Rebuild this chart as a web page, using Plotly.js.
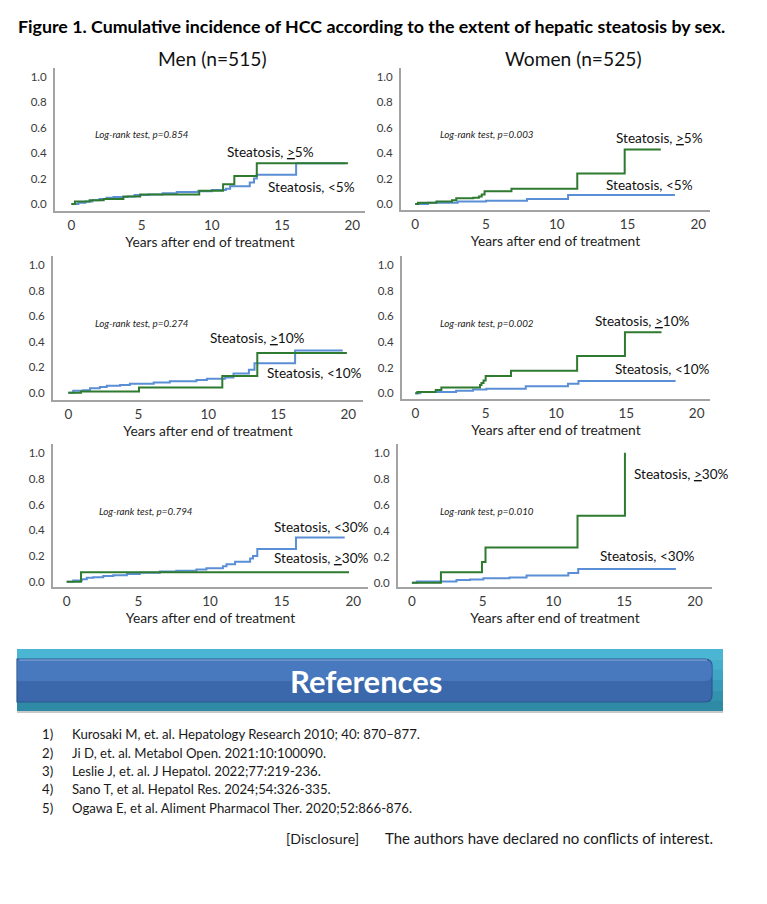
<!DOCTYPE html>
<html>
<head>
<meta charset="utf-8">
<script src="https://cdn.plot.ly/plotly-3.0.1.min.js"></script>
<style>html,body{margin:0;padding:0;background:#fff;}#chart{width:767px;height:904px;}</style>
</head>
<body>
<div id="chart"></div>
<script>
// ---------------- DATA ----------------
// Panel A: Men, 5% cut-off
const menLt5_t  = [0, 0.5, 1.0, 1.5, 2.0, 2.5, 3.0, 4.0, 4.5, 5.5, 6.5, 7.5, 9.0, 10.0, 11.0, 11.3, 12.7, 13.0, 13.2, 16.0, 19.5];
const menLt5_y  = [0, 0.01, 0.02, 0.03, 0.04, 0.05, 0.055, 0.06, 0.07, 0.075, 0.085, 0.095, 0.10, 0.11, 0.12, 0.14, 0.17, 0.20, 0.23, 0.32, 0.32];
const menGe5_t  = [0, 0.25, 1.3, 2.3, 3.7, 4.9, 9.1, 10.8, 11.6, 13.2, 19.7];
const menGe5_y  = [0, 0.02, 0.03, 0.04, 0.06, 0.075, 0.105, 0.155, 0.22, 0.32, 0.32];
// Panel B: Women, 5% cut-off
const womenLt5_t = [0, 0.9, 3.0, 5.0, 7.9, 10.8, 18.35];
const womenLt5_y = [0, 0.01, 0.02, 0.025, 0.04, 0.07, 0.07];
const womenGe5_t = [0, 0.2, 1.5, 2.6, 2.9, 4.1, 4.5, 4.7, 4.9, 6.8, 11.45, 14.8, 17.35];
const womenGe5_y = [0, 0.01, 0.02, 0.03, 0.045, 0.05, 0.06, 0.075, 0.10, 0.12, 0.24, 0.43, 0.43];
// Panel C: Men, 10% cut-off
const menLt10_t = [0, 0.35, 1.05, 1.55, 2.25, 2.75, 3.7, 4.4, 6.1, 7.25, 9.15, 9.9, 11.2, 11.8, 12.9, 13.3, 16.2, 19.6];
const menLt10_y = [0, 0.015, 0.02, 0.035, 0.045, 0.055, 0.06, 0.07, 0.08, 0.09, 0.10, 0.11, 0.12, 0.15, 0.18, 0.23, 0.33, 0.33];
const menGe10_t = [0, 0.9, 5.05, 11.0, 13.5, 19.9];
const menGe10_y = [0, 0.01, 0.04, 0.13, 0.31, 0.31];
// Panel D: Women, 10% cut-off
const womenLt10_t = [0, 0.35, 2.9, 4.1, 5.05, 7.85, 10.85, 11.6, 18.5];
const womenLt10_y = [0, 0.01, 0.02, 0.03, 0.035, 0.055, 0.075, 0.095, 0.095];
const womenGe10_t = [0, 0.15, 1.45, 1.85, 4.6, 4.7, 4.85, 5.0, 6.8, 11.5, 14.9, 17.5];
const womenGe10_y = [0, 0.01, 0.025, 0.045, 0.065, 0.08, 0.10, 0.135, 0.175, 0.29, 0.475, 0.475];
// Panel E: Men, 30% cut-off
const menLt30_t = [0, 0.45, 1.05, 1.4, 1.85, 2.55, 3.25, 4.2, 5.1, 6.5, 7.65, 9.05, 9.75, 10.9, 11.15, 11.75, 12.8, 13.0, 13.3, 16.0, 19.4];
const menLt30_y = [0, 0.01, 0.02, 0.03, 0.035, 0.045, 0.05, 0.06, 0.07, 0.08, 0.085, 0.095, 0.105, 0.12, 0.135, 0.155, 0.18, 0.20, 0.255, 0.345, 0.345];
const menGe30_t = [0, 1.0, 19.7];
const menGe30_y = [0, 0.073, 0.073];
// Panel F: Women, 30% cut-off
const womenLt30_t = [0, 0.35, 3.15, 4.1, 5.05, 6.9, 8.1, 11.05, 11.75, 18.65];
const womenLt30_y = [0, 0.01, 0.02, 0.025, 0.035, 0.04, 0.055, 0.075, 0.105, 0.105];
const womenGe30_t = [0, 2.05, 4.95, 5.2, 11.7, 15.05];
const womenGe30_y = [0, 0.08, 0.16, 0.27, 0.515, 1.0];

const pValues = ['0.854', '0.003', '0.274', '0.002', '0.794', '0.010'];
const groupTitles = ['Men (n=515)', 'Women (n=525)'];
const xTicks = [0, 5, 10, 15, 20];
const yTicks = [0, 0.2, 0.4, 0.6, 0.8, 1.0];
const references = [
  'Kurosaki M, et. al. Hepatology Research 2010; 40: 870\u2013877.',
  'Ji D, et. al. Metabol Open. 2021:10:100090.',
  'Leslie J, et. al. J Hepatol. 2022;77:219-236.',
  'Sano T, et al. Hepatol Res. 2024;54:326-335.',
  'Ogawa E, et al. Aliment Pharmacol Ther. 2020;52:866-876.'
];

// ---------------- LAYOUT / STYLE ----------------
const W = 767, H = 904;
const FONT = 'Lato, "Open Sans", "DejaVu Sans", sans-serif';
const GREEN = '#2e7b30', BLUE = '#5b8fd5';
const px = v => v / W, py = v => 1 - v / H;
const GE = '<span style="text-decoration:underline">&gt;</span>';

// panel geometry in pixels: plot box (L,R,T,B) and where x=0/x=20 and y=0/y=1 fall
const geo = [
  {L: 55,  R: 365, T: 68,  B: 211, x0: 71.4,  x20: 352.3, y0: 204,   y1: 77},
  {L: 401, R: 710, T: 68,  B: 210, x0: 415.2, x20: 698.3, y0: 204,   y1: 77},
  {L: 53,  R: 363, T: 256, B: 400, x0: 68.3,  x20: 348.3, y0: 392.7, y1: 265},
  {L: 402, R: 710, T: 256, B: 399, x0: 415.3, x20: 696.7, y0: 393.3, y1: 265},
  {L: 53,  R: 368, T: 444, B: 587, x0: 66.7,  x20: 353.3, y0: 581.7, y1: 453.3},
  {L: 398, R: 712, T: 444, B: 587, x0: 411.9, x20: 695,   y0: 582.7, y1: 452.7}
];

const series = [
  [[menLt5_t, menLt5_y, BLUE, 'Steatosis, <5%'], [menGe5_t, menGe5_y, GREEN, 'Steatosis, ≥5%']],
  [[womenLt5_t, womenLt5_y, BLUE, 'Steatosis, <5%'], [womenGe5_t, womenGe5_y, GREEN, 'Steatosis, ≥5%']],
  [[menLt10_t, menLt10_y, BLUE, 'Steatosis, <10%'], [menGe10_t, menGe10_y, GREEN, 'Steatosis, ≥10%']],
  [[womenLt10_t, womenLt10_y, BLUE, 'Steatosis, <10%'], [womenGe10_t, womenGe10_y, GREEN, 'Steatosis, ≥10%']],
  [[menLt30_t, menLt30_y, BLUE, 'Steatosis, <30%'], [menGe30_t, menGe30_y, GREEN, 'Steatosis, ≥30%']],
  [[womenLt30_t, womenLt30_y, BLUE, 'Steatosis, <30%'], [womenGe30_t, womenGe30_y, GREEN, 'Steatosis, ≥30%']]
];

// label positions (pixels) for the curve labels
const labelPos = [
  {ge: [270, 152], lt: [311, 187], cut: '5%'},
  {ge: [659, 138], lt: [649, 185], cut: '5%'},
  {ge: [257, 338], lt: [314, 373], cut: '10%'},
  {ge: [642, 321], lt: [662, 369], cut: '10%'},
  {ge: [321, 558], lt: [321, 527], cut: '30%'},
  {ge: [681, 474], lt: [647, 556], cut: '30%'}
];
const pPos = [[142, 134], [487, 134], [142, 323], [487, 323], [146, 511], [487, 511]];

const data = [];
const layout = {
  width: W, height: H,
  margin: {l: 0, r: 0, t: 0, b: 0},
  paper_bgcolor: '#ffffff', plot_bgcolor: 'rgba(0,0,0,0)',
  showlegend: false,
  font: {family: FONT, color: '#222'},
  title: {
    text: '<b>Figure 1. Cumulative incidence of HCC according to the extent of hepatic steatosis by sex.</b>',
    font: {family: FONT, size: 17.8, color: '#000'},
    xref: 'container', yref: 'container', x: px(18), xanchor: 'left', y: py(27), yanchor: 'middle'
  },
  annotations: [], shapes: []
};

geo.forEach((g, i) => {
  const n = i + 1;
  const kx = (g.x20 - g.x0) / 20, ky = g.y0 - g.y1;
  const xa = 'xaxis' + (n === 1 ? '' : n), ya = 'yaxis' + (n === 1 ? '' : n);
  layout[xa] = {
    domain: [px(g.L), px(g.R)], anchor: 'y' + (n === 1 ? '' : n),
    range: [(g.L - g.x0) / kx, (g.R - g.x0) / kx],
    tickvals: xTicks, ticks: '', showgrid: false, zeroline: false,
    showline: true, linecolor: '#a3a3a3', linewidth: 2,
    tickfont: {family: FONT, size: 13.5, color: '#3a3a3a'}, ticklabelstandoff: 1,
    title: {text: 'Years after end of treatment', font: {family: FONT, size: 13.8, color: '#222'}, standoff: 0}
  };
  layout[ya] = {
    domain: [py(g.B), py(g.T)], anchor: 'x' + (n === 1 ? '' : n),
    range: [(g.y0 - g.B) / ky, (g.y0 - g.T) / ky],
    tickvals: yTicks, tickformat: '.1f', ticks: '', showgrid: false, zeroline: false,
    showline: true, linecolor: '#a3a3a3', linewidth: 2,
    tickfont: {family: FONT, size: 11.5, color: '#3a3a3a'}, ticklabelstandoff: 4
  };
  series[i].forEach(s => {
    data.push({
      type: 'scatter', mode: 'lines', x: s[0], y: s[1], name: s[3],
      xaxis: 'x' + (n === 1 ? '' : n), yaxis: 'y' + (n === 1 ? '' : n),
      line: {color: s[2], width: 2, shape: 'hv'}, hoverinfo: 'skip'
    });
  });
  const lp = labelPos[i];
  layout.annotations.push(
    {text: 'Steatosis, ' + GE + lp.cut, xref: 'paper', yref: 'paper', x: px(lp.ge[0]), y: py(lp.ge[1]),
     xanchor: 'center', yanchor: 'middle', showarrow: false, font: {family: FONT, size: 13.6, color: '#111'}},
    {text: 'Steatosis, &lt;' + lp.cut, xref: 'paper', yref: 'paper', x: px(lp.lt[0]), y: py(lp.lt[1]),
     xanchor: 'center', yanchor: 'middle', showarrow: false, font: {family: FONT, size: 13.6, color: '#111'}},
    {text: '<i>Log-rank test, p=' + pValues[i] + '</i>', xref: 'paper', yref: 'paper', x: px(pPos[i][0]), y: py(pPos[i][1]),
     xanchor: 'center', yanchor: 'middle', showarrow: false, font: {family: FONT, size: 9.8, color: '#222'}}
  );
});

// column titles
layout.annotations.push(
  {text: groupTitles[0], xref: 'paper', yref: 'paper', x: px(212), y: py(58), xanchor: 'center', yanchor: 'middle',
   showarrow: false, font: {family: FONT, size: 19.2, color: '#111'}},
  {text: groupTitles[1], xref: 'paper', yref: 'paper', x: px(573), y: py(58), xanchor: 'center', yanchor: 'middle',
   showarrow: false, font: {family: FONT, size: 19.2, color: '#111'}}
);

// References banner (decoration)
const outerTop = 649, outerBot = 711, outerL = 17, outerR = 723;
const tealStops = ['#4bb6d4', '#44aecd', '#3ea5c4', '#389bba', '#3392ae', '#2f8ba5'];
const strip = (outerBot - outerTop) / tealStops.length;
tealStops.forEach((c, k) => {
  layout.shapes.push({type: 'rect', xref: 'paper', yref: 'paper', layer: 'below',
    x0: px(outerL), x1: px(outerR), y0: py(outerTop + k * strip), y1: py(outerTop + (k + 1) * strip + 0.5),
    fillcolor: c, line: {width: 0}});
});
layout.shapes.push({type: 'line', xref: 'paper', yref: 'paper', x0: px(outerL), x1: px(outerR), y0: py(712), y1: py(712),
  line: {color: '#c8c8c8', width: 2}});
// inner rounded blue bar
const iT = 659, iB = 702, iL = 17, iR = 712, r = 7;
const P = (x, y) => px(x).toFixed(5) + ',' + py(y).toFixed(5);
const innerPath = (t, b) => 'M' + P(iL, t) + ' L' + P(iR - r, t) + ' Q' + P(iR, t) + ' ' + P(iR, t + r) +
  ' L' + P(iR, b - r) + ' Q' + P(iR, b) + ' ' + P(iR - r, b) + ' L' + P(iL, b) + ' Z';
layout.shapes.push({type: 'path', xref: 'paper', yref: 'paper', layer: 'below', path: innerPath(iT, iB),
  fillcolor: '#3a68ab', line: {color: '#2d5690', width: 1.2}});
layout.shapes.push({type: 'path', xref: 'paper', yref: 'paper', layer: 'below', path: innerPath(iT + 1, iT + 22),
  fillcolor: 'rgba(90,140,210,0.45)', line: {width: 0}});
layout.shapes.push({type: 'line', xref: 'paper', yref: 'paper', layer: 'below', x0: px(iL + 2), x1: px(iR - 5), y0: py(iT + 1), y1: py(iT + 1),
  line: {color: '#8fb0dd', width: 1}});
layout.annotations.push({text: '<b>References</b>', xref: 'paper', yref: 'paper', x: px(366), y: py(681),
  xanchor: 'center', yanchor: 'middle', showarrow: false, font: {family: FONT, size: 31, color: '#ffffff'}});

// reference list
const refY = [734, 752.5, 771, 789, 807.5];
references.forEach((t, k) => {
  layout.annotations.push(
    {text: (k + 1) + ')', xref: 'paper', yref: 'paper', x: px(40), y: py(refY[k]), xanchor: 'left', yanchor: 'middle',
     showarrow: false, font: {family: FONT, size: 13.2, color: '#1a1a1a'}},
    {text: t, xref: 'paper', yref: 'paper', x: px(70), y: py(refY[k]), xanchor: 'left', yanchor: 'middle',
     showarrow: false, font: {family: FONT, size: 13.2, color: '#1a1a1a'}}
  );
});
layout.annotations.push(
  {text: '[Disclosure]', xref: 'paper', yref: 'paper', x: px(284), y: py(838), xanchor: 'left', yanchor: 'middle',
   showarrow: false, font: {family: FONT, size: 14.2, color: '#1a1a1a'}},
  {text: 'The authors have declared no conflicts of interest.', xref: 'paper', yref: 'paper', x: px(383), y: py(838),
   xanchor: 'left', yanchor: 'middle', showarrow: false, font: {family: FONT, size: 15, color: '#1a1a1a'}}
);

Plotly.newPlot('chart', data, layout, {staticPlot: true, displayModeBar: false});
</script>
</body>
</html>
